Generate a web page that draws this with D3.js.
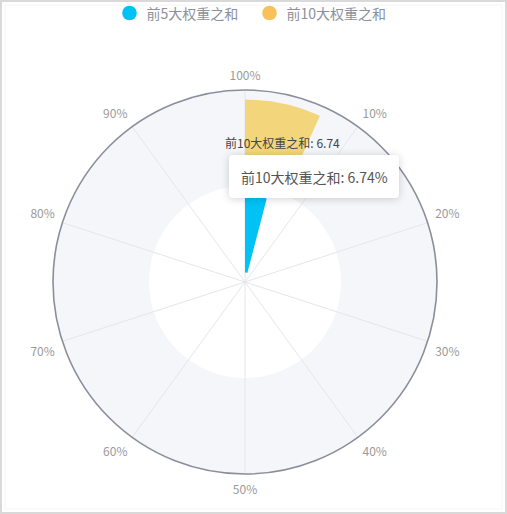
<!DOCTYPE html>
<html>
<head>
<meta charset="utf-8">
<script src="https://cdn.jsdelivr.net/npm/d3@7"></script>
<style>
html,body{margin:0;padding:0;background:#fff;}
body{width:507px;height:514px;position:relative;overflow:hidden;font-family:"Noto Sans CJK SC","Noto Sans",sans-serif;}
#tip{position:absolute;background:#fff;border-radius:4px;box-shadow:0 1px 8px rgba(0,0,0,0.18);color:#555;font-size:14px;white-space:nowrap;box-sizing:border-box;display:flex;align-items:center;}
</style>
</head>
<body>
<svg id="chart" width="507" height="514"></svg>
<div id="tip"></div>
<script>
// ---- data ----
const categories = ["前5大权重之和", "前10大权重之和"];
const values = [4.05, 6.74];
const colors = ["#00c2f5", "#f8c25a"];
const barColors = ["#00c2f5", "#f3d67b"];
const angleTicks = [0, 10, 20, 30, 40, 50, 60, 70, 80, 90];
const angleMax = 100;
const tooltipSeries = 1;

const svg = d3.select("#chart");
const W = 507, H = 514;
const cx = 245, cy = 282, R = 192;

// frame
svg.append("rect").attr("x", 1).attr("y", 1).attr("width", W - 2).attr("height", H - 2)
  .attr("fill", "none").attr("stroke", "#d9d9d9").attr("stroke-width", 2);
svg.append("rect").attr("x", 5).attr("y", 5).attr("width", W - 10).attr("height", H - 10)
  .attr("fill", "none").attr("stroke", "#f6f6f6").attr("stroke-width", 1);

const angle = d3.scaleLinear().domain([0, angleMax]).range([0, 2 * Math.PI]);
const radius = d3.scaleBand().domain(categories).range([0, R]).paddingInner(0.2).paddingOuter(0.1);
const band = d3.scaleBand().domain(categories).range([0, R]);

const g = svg.append("g").attr("transform", `translate(${cx},${cy})`);

// split area
categories.forEach((c, i) => {
  g.append("path")
    .attr("d", d3.arc()({innerRadius: band(c), outerRadius: band(c) + band.bandwidth(), startAngle: 0, endAngle: 2 * Math.PI}))
    .attr("fill", i === 0 ? "#ffffff" : "#f5f6fa");
});

// split lines
angleTicks.forEach(t => {
  const a = angle(t);
  g.append("line").attr("x1", 0).attr("y1", 0)
    .attr("x2", R * Math.sin(a)).attr("y2", -R * Math.cos(a))
    .attr("stroke", "#e4e6ec").attr("stroke-width", 1);
});

// bars
categories.forEach((c, i) => {
  g.append("path")
    .attr("d", d3.arc()({innerRadius: radius(c), outerRadius: radius(c) + radius.bandwidth(), startAngle: 0, endAngle: angle(values[i])}))
    .attr("fill", barColors[i]);
});

// axis circle
g.append("circle").attr("r", R).attr("fill", "none").attr("stroke", "#8b8e9b").attr("stroke-width", 1.6);

// angle labels
angleTicks.forEach(t => {
  const a = angle(t);
  const rr = R + 8;
  const x = rr * Math.sin(a), y = -rr * Math.cos(a);
  const anchor = Math.abs(x) / R < 0.3 ? "middle" : (x > 0 ? "start" : "end");
  const base = Math.abs(y) / R < 0.3 ? "central" : (y > 0 ? "hanging" : "auto");
  const lab = t === 0 ? angleMax : t;
  g.append("text").attr("x", x).attr("y", y + (base === "hanging" ? 1 : (base === "auto" ? -2 : 0)))
    .attr("text-anchor", anchor).attr("dominant-baseline", base)
    .attr("font-size", 12).attr("fill", "#9a9a9a").text(lab + "%");
});

// bar label (second series)
{
  const c = categories[1];
  const rMid = radius(c) + radius.bandwidth() / 2;
  const a = angle(values[1] * 0.62);
  g.append("text").attr("x", rMid * Math.sin(a)).attr("y", -rMid * Math.cos(a))
    .attr("text-anchor", "middle").attr("dominant-baseline", "central")
    .attr("font-size", 12).attr("fill", "#444").text(c + ": " + values[1]);
}

// legend
const leg = svg.append("g");
const legX = [129.5, 269.5];
categories.forEach((c, i) => {
  leg.append("circle").attr("cx", legX[i]).attr("cy", 13).attr("r", 7.3).attr("fill", colors[i]);
  leg.append("text").attr("x", legX[i] + 17).attr("y", 13).attr("dominant-baseline", "central")
    .attr("font-size", 14).attr("fill", "#8c909c").text(c);
});

// tooltip
d3.select("#tip")
  .style("left", "229px").style("top", "155px").style("width", "170px").style("height", "43px")
  .style("padding-left", "12px")
  .text(categories[tooltipSeries] + ": " + values[tooltipSeries] + "%");
</script>
</body>
</html>
